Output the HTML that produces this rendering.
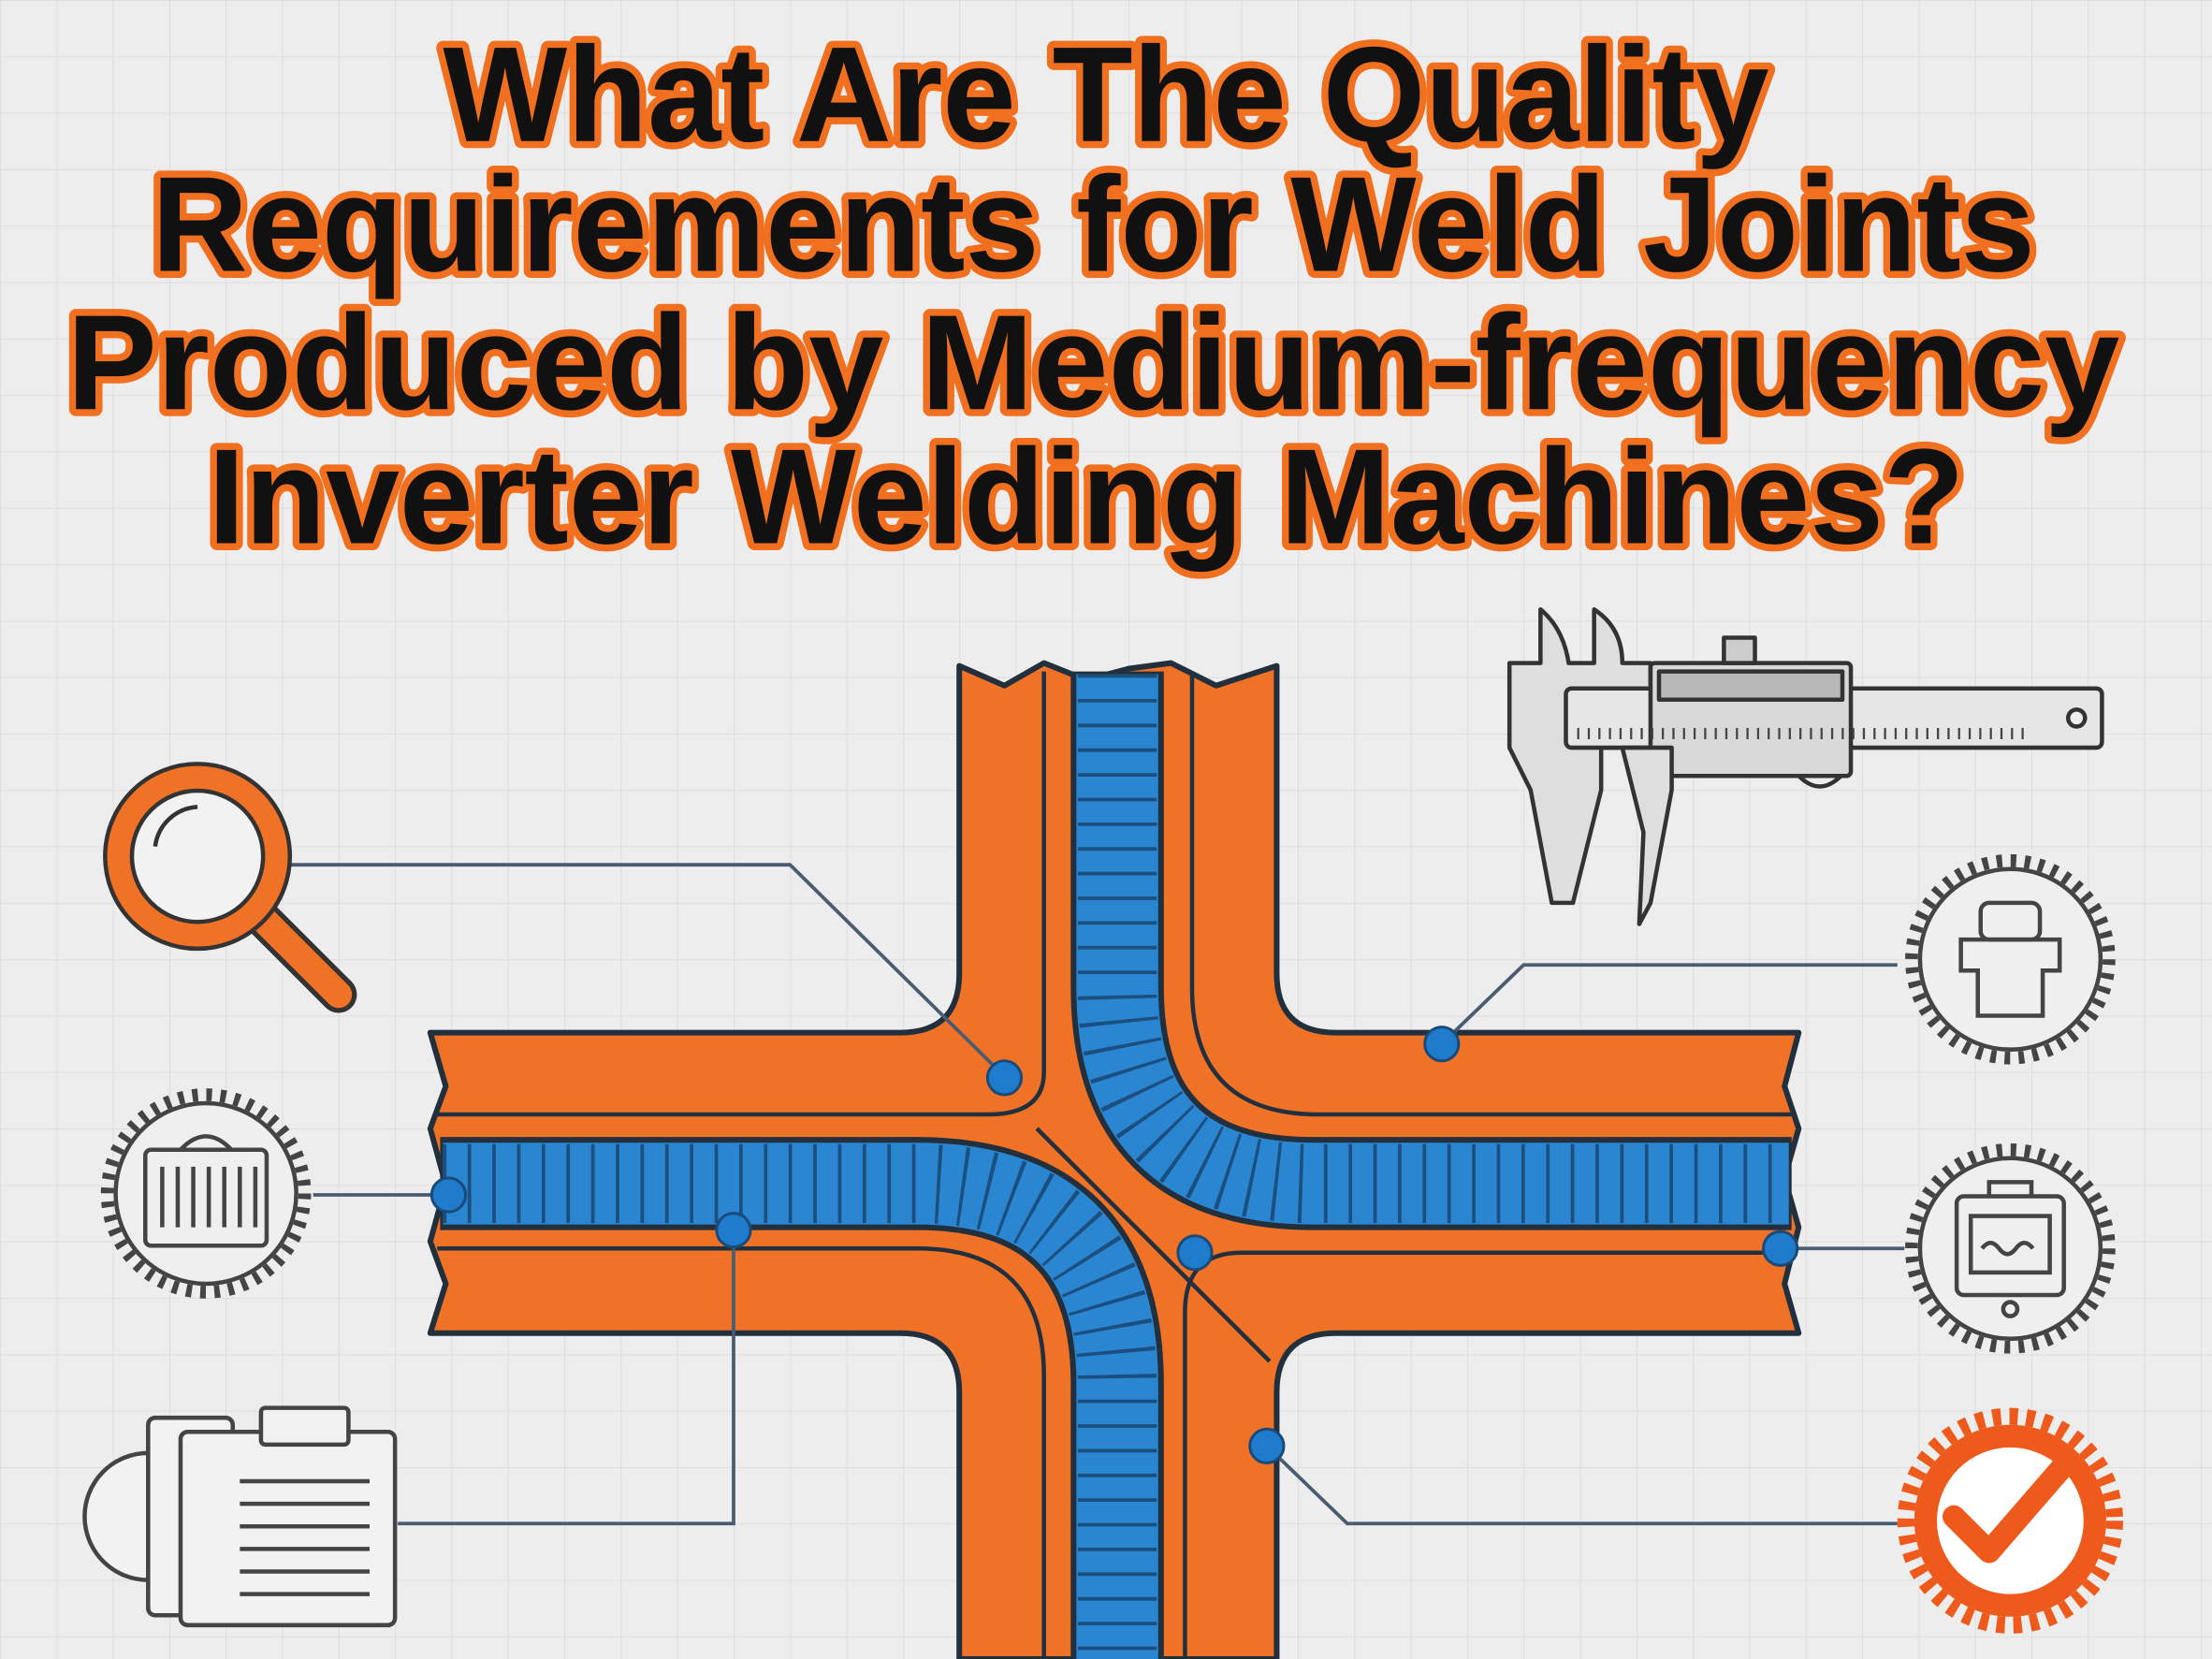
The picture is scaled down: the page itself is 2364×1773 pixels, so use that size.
<!DOCTYPE html>
<html><head><meta charset="utf-8"><style>
html,body{margin:0;padding:0;background:#ececec}
svg{display:block}
</style></head><body>
<svg width="2364" height="1773" viewBox="0 0 1568 1176" xmlns="http://www.w3.org/2000/svg">
<defs>
<pattern id="g" width="40" height="40" patternUnits="userSpaceOnUse">
<path d="M40 0H0V40" fill="none" stroke="#dcdcdc" stroke-width="1.2"/>
</pattern>
</defs>
<rect width="1568" height="1176" fill="#ededed"/>
<rect width="1568" height="1176" fill="url(#g)"/>

<g font-family="Liberation Sans, sans-serif" font-weight="bold" font-size="96" fill="#111" stroke="#f07020" stroke-width="10" stroke-linejoin="round" paint-order="stroke" text-anchor="middle">
<text x="784" y="100" textLength="940" lengthAdjust="spacingAndGlyphs">What Are The Quality</text>
<text x="775" y="192" textLength="1335" lengthAdjust="spacingAndGlyphs">Requirements for Weld Joints</text>
<text x="775" y="290" textLength="1455" lengthAdjust="spacingAndGlyphs">Produced by Medium-frequency</text>
<text x="770" y="385" textLength="1245" lengthAdjust="spacingAndGlyphs">Inverter Welding Machines?</text>
</g>

<!-- cross -->
<path d="M680,472 L712,486 L740,470 L770,482 L800,474 L830,470 L862,486 L905,472 L905,690 Q905,732 947,732 L1275,732 L1265,770 L1275,800 L1265,835 L1275,870 L1265,910 L1275,945 L947,945 Q905,945 905,987 L905,1176 L680,1176 L680,987 Q680,945 638,945 L305,945 L316,910 L305,880 L316,840 L305,800 L316,770 L305,732 L638,732 Q680,732 680,690 Z" fill="#f07227" stroke="#22303e" stroke-width="4" stroke-linejoin="round"/>
<g fill="none" stroke="#22303e" stroke-width="3">
<path d="M845,476 L845,700 Q845,790 935,790 L1270,790"/>
<path d="M740,476 L740,760 Q740,790 700,790 L310,790"/>
<path d="M310,885 L650,885 Q740,885 740,975 L740,1176"/>
<path d="M840,1176 L840,930 Q840,888 880,888 L1270,888"/>
<path d="M735,800 L900,965"/>
</g>
<!-- weld beads -->
<g fill="none" stroke-linecap="butt">
<path d="M792,476 L792,700 Q792,839 931,839 L1270,839" stroke="#22303e" stroke-width="66"/>
<path d="M312,839 L650,839 Q792,839 792,981 L792,1176" stroke="#22303e" stroke-width="66"/>
<path d="M792,478 L792,700 Q792,839 931,839 L1268,839" stroke="#2b86d2" stroke-width="58"/>
<path d="M314,839 L650,839 Q792,839 792,981 L792,1176" stroke="#2b86d2" stroke-width="58"/>
<path d="M792,478 L792,700 Q792,839 931,839 L1268,839" stroke="#1b4f80" stroke-width="56" stroke-dasharray="2.5 15"/>
<path d="M314,839 L650,839 Q792,839 792,981 L792,1176" stroke="#1b4f80" stroke-width="56" stroke-dasharray="2.5 15"/>
</g>

<!-- connectors -->
<g fill="none" stroke="#4a5b72" stroke-width="2.5">
<path d="M205,613 L560,613 L712,763"/>
<path d="M222,847 L318,847"/>
<path d="M282,1080 L520,1080 L520,872"/>
<path d="M1345,684 L1080,684 L1022,740"/>
<path d="M1262,885 L1350,885"/>
<path d="M1345,1080 L955,1080 L898,1025"/>
</g>
<g fill="#1f7ccc" stroke="#1a4a78" stroke-width="2">
<circle cx="712" cy="764" r="12"/><circle cx="318" cy="847" r="12"/><circle cx="520" cy="872" r="12"/>
<circle cx="1022" cy="740" r="12"/><circle cx="1262" cy="885" r="12"/><circle cx="898" cy="1025" r="12"/>
<circle cx="847" cy="888" r="12"/>
</g>

<!-- magnifier -->
<g>
<line x1="185" y1="650" x2="240" y2="705" stroke="#333" stroke-width="26" stroke-linecap="round"/>
<line x1="185" y1="650" x2="240" y2="705" stroke="#f07227" stroke-width="19" stroke-linecap="round"/>
<circle cx="140" cy="607" r="56" fill="#f2f2f2" stroke="#333" stroke-width="22"/>
<circle cx="140" cy="607" r="56" fill="none" stroke="#f07227" stroke-width="16"/>
<path d="M110,600 A32,32 0 0 1 140,572" fill="none" stroke="#333" stroke-width="3"/>
</g>

<!-- left badge -->
<g>
<circle cx="146" cy="846" r="70" fill="none" stroke="#444" stroke-width="9" stroke-dasharray="4 6"/>
<circle cx="146" cy="846" r="64" fill="#efefef" stroke="#444" stroke-width="3"/>
<rect x="103" y="815" width="86" height="68" rx="4" fill="none" stroke="#444" stroke-width="3"/>
<path d="M128,815 Q146,796 164,815" fill="none" stroke="#444" stroke-width="3"/>
<g stroke="#444" stroke-width="3"><line x1="115" y1="827" x2="115" y2="870"/><line x1="126" y1="827" x2="126" y2="870"/><line x1="137" y1="827" x2="137" y2="870"/><line x1="148" y1="827" x2="148" y2="870"/><line x1="159" y1="827" x2="159" y2="870"/><line x1="170" y1="827" x2="170" y2="870"/><line x1="181" y1="827" x2="181" y2="870"/></g>
</g>

<!-- clipboard -->
<g fill="#f2f2f2" stroke="#444" stroke-width="3">
<path d="M105,1030 A45,45 0 0 0 105,1120"/>
<rect x="105" y="1005" width="60" height="140" rx="5"/>
<rect x="128" y="1015" width="152" height="137" rx="5"/>
<rect x="185" y="998" width="62" height="26" rx="3"/>
<g fill="none"><line x1="170" y1="1050" x2="262" y2="1050"/><line x1="170" y1="1066" x2="262" y2="1066"/><line x1="170" y1="1082" x2="262" y2="1082"/><line x1="170" y1="1098" x2="262" y2="1098"/><line x1="170" y1="1114" x2="262" y2="1114"/><line x1="170" y1="1130" x2="262" y2="1130"/></g>
</g>

<!-- caliper -->
<g stroke="#333" stroke-width="3" stroke-linejoin="round">
<path d="M1070,470 L1092,470 L1092,432 Q1108,445 1112,470 L1130,470 L1130,432 Q1150,445 1150,470 L1170,470 L1170,530 L1135,530 L1135,560 L1115,640 L1100,640 L1085,560 L1070,530 Z" fill="#dedede"/>
<rect x="1110" y="488" width="380" height="42" rx="4" fill="#e6e6e6"/>
<rect x="1170" y="470" width="142" height="80" rx="3" fill="#d8d8d8"/>
<rect x="1176" y="476" width="130" height="20" fill="#b8b8b8"/>
<rect x="1222" y="452" width="22" height="18" fill="#ccc"/>
<path d="M1170,530 L1185,530 L1185,560 L1170,640 L1162,655 L1165,590 L1150,530 Z" fill="#dedede"/>
<path d="M1275,550 Q1290,565 1305,550" fill="none"/>
<circle cx="1472" cy="509" r="6" fill="#eee"/>
</g>
<path d="M1118,520 H1440" stroke="#444" stroke-width="8" stroke-dasharray="1.5 6"/>

<!-- right top badge -->
<g>
<circle cx="1425" cy="680" r="70" fill="none" stroke="#444" stroke-width="9" stroke-dasharray="4 6"/>
<circle cx="1425" cy="680" r="64" fill="#efefef" stroke="#444" stroke-width="3"/>
<g fill="none" stroke="#444" stroke-width="3">
<rect x="1404" y="640" width="42" height="26" rx="6"/>
<path d="M1390,666 H1460 V688 H1448 V720 H1402 V688 H1390 Z"/>
</g>
</g>

<!-- right mid badge -->
<g>
<circle cx="1425" cy="885" r="70" fill="none" stroke="#444" stroke-width="9" stroke-dasharray="4 6"/>
<circle cx="1425" cy="885" r="64" fill="#efefef" stroke="#444" stroke-width="3"/>
<g fill="none" stroke="#444" stroke-width="3">
<rect x="1387" y="848" width="76" height="70" rx="5"/>
<rect x="1397" y="862" width="56" height="40"/>
<path d="M1405,885 q6,-8 12,0 q6,8 12,0 q6,-8 12,0"/>
<path d="M1410,848 v-10 h30 v10"/>
<circle cx="1425" cy="928" r="5"/>
</g>
</g>

<!-- check badge -->
<g>
<circle cx="1425" cy="1078" r="74" fill="none" stroke="#ee5a1c" stroke-width="12" stroke-dasharray="6 6"/>
<circle cx="1425" cy="1078" r="68" fill="#ee5a1c"/>
<circle cx="1425" cy="1078" r="52" fill="#ffffff"/>
<path d="M1385,1075 L1410,1100 L1462,1040" fill="none" stroke="#ee5a1c" stroke-width="16" stroke-linecap="round" stroke-linejoin="round"/>
</g>
</svg>
</body></html>
